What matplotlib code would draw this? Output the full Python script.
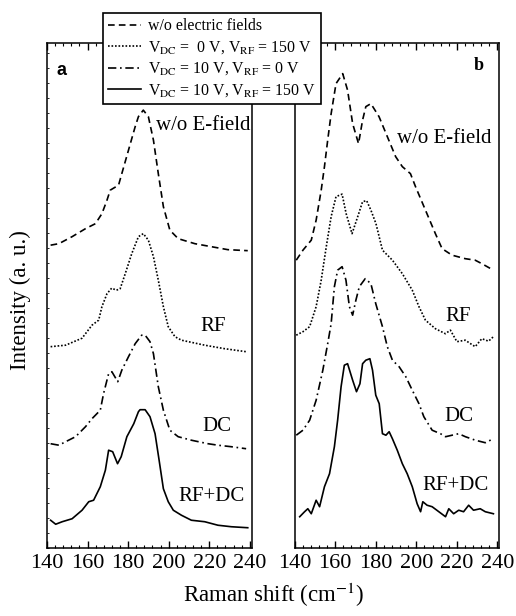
import numpy as np
import matplotlib
matplotlib.use('Agg')
import matplotlib.pyplot as plt
from matplotlib.lines import Line2D
from matplotlib.ticker import MultipleLocator

plt.rcParams['font.family'] = ['Liberation Serif', 'DejaVu Serif']
plt.rcParams['mathtext.fontset'] = 'stix'

# ---- panel a (intensity in a.u., curves already offset) ----
a_wo_x = [141.8, 145.9, 152.4, 159.0, 163.9, 167.1, 169.6, 171.2, 175.3, 176.9, 180.2, 183.5,
          185.1, 187.5, 190.0, 192.5, 194.9, 197.4, 200.6, 204.7, 212.9, 221.0, 229.2, 239.0]
a_wo_y = [60.6, 60.9, 62.3, 63.9, 64.9, 66.9, 69.6, 71.6, 72.6, 74.9, 79.6, 84.3,
          86.3, 87.6, 86.3, 81.6, 74.9, 68.3, 63.6, 61.9, 60.9, 60.3, 59.7, 59.5]

a_rf_x = [141.8, 149.2, 157.3, 162.2, 165.5, 167.1, 169.6, 171.9, 174.3, 176.1, 178.6, 181.8,
          185.1, 187.5, 190.0, 192.5, 194.9, 197.4, 199.8, 203.1, 206.3, 217.8, 227.6, 238.2]
a_rf_y = [40.3, 40.6, 42.0, 44.6, 45.6, 48.3, 50.9, 52.0, 51.6, 51.9, 54.9, 58.9,
          62.3, 62.9, 61.6, 58.3, 53.6, 48.3, 44.3, 42.3, 41.6, 40.6, 39.9, 39.3]

a_dc_x = [141.8, 145.9, 149.2, 154.1, 159.0, 162.2, 166.3, 167.9, 170.4, 172.0, 174.9, 176.9,
          180.2, 183.5, 186.7, 188.4, 190.8, 192.5, 194.9, 197.4, 200.6, 204.7, 211.2, 219.4,
          224.3, 230.9, 238.2]
a_dc_y = [20.9, 20.6, 21.3, 22.3, 24.3, 25.9, 27.6, 30.9, 34.9, 35.3, 33.3, 35.6,
          38.3, 40.9, 42.6, 42.6, 41.3, 38.9, 32.3, 27.6, 23.6, 22.3, 21.6, 20.9,
          20.6, 20.3, 19.9]

a_both_x = [141.8, 144.3, 147.5, 152.4, 157.3, 160.6, 163.0, 166.3, 168.8, 170.4, 172.4, 174.8,
            176.6, 179.4, 182.8, 185.1, 185.9, 188.4, 190.8, 193.3, 195.3, 197.4, 199.8, 202.3,
            206.3, 211.2, 217.8, 224.3, 230.9, 239.0]
a_both_y = [5.6, 4.8, 5.3, 5.9, 7.6, 9.3, 9.6, 12.3, 15.6, 19.6, 19.3, 16.9,
            18.3, 22.3, 24.9, 27.3, 27.7, 27.7, 26.3, 22.9, 17.6, 11.9, 9.3, 7.6,
            6.6, 5.6, 5.3, 4.6, 4.3, 4.1]

# ---- panel b ----
b_wo_x = [140.8, 144.1, 148.2, 150.6, 153.1, 154.7, 156.3, 158.0, 160.4, 163.7, 166.1, 168.6,
          171.5, 173.5, 175.1, 177.6, 181.6, 185.7, 189.8, 193.1, 197.1, 199.6, 204.5, 209.4,
          212.7, 217.6, 224.1, 229.0, 232.3, 238.0]
b_wo_y = [57.6, 59.6, 61.6, 65.6, 71.6, 76.3, 81.6, 86.9, 92.9, 94.9, 91.6, 84.9,
          80.9, 85.6, 88.3, 88.9, 86.3, 82.3, 78.3, 76.3, 74.9, 72.3, 67.6, 62.9,
          59.9, 58.6, 57.9, 57.6, 56.9, 55.6]

b_rf_x = [140.8, 144.1, 147.4, 150.6, 153.1, 155.6, 158.0, 160.4, 163.4, 165.4, 168.3, 171.1,
          173.5, 175.5, 177.6, 180.1, 183.3, 188.2, 193.1, 198.0, 201.3, 204.5, 209.4, 214.3,
          216.8, 220.0, 224.1, 229.0, 232.3, 235.6, 238.0]
b_rf_y = [42.6, 43.3, 44.3, 48.3, 53.6, 60.3, 66.3, 70.3, 70.8, 66.9, 62.9, 66.3,
          69.3, 69.5, 67.6, 64.9, 59.6, 57.6, 54.9, 51.6, 48.3, 45.6, 43.9, 42.9,
          43.6, 41.3, 41.6, 40.3, 41.9, 41.4, 42.3]

b_dc_x = [140.8, 144.1, 147.4, 150.6, 153.9, 156.3, 158.0, 159.6, 161.2, 163.4, 165.3, 167.0,
          168.6, 170.2, 171.9, 174.8, 177.6, 180.0, 183.3, 185.7, 188.2, 191.5, 194.8, 198.0,
          201.3, 203.7, 207.8, 211.9, 214.4, 217.6, 220.9, 224.2, 229.1, 234.0, 238.0]
b_dc_y = [22.6, 23.6, 25.6, 29.6, 35.6, 40.9, 44.9, 52.3, 55.6, 56.3, 53.6, 48.3,
          46.6, 49.6, 52.3, 53.9, 52.9, 48.9, 44.3, 40.3, 37.6, 36.3, 34.3, 31.6,
          28.9, 26.3, 23.6, 22.9, 22.3, 22.6, 22.9, 22.3, 21.6, 21.1, 21.9]

b_both_x = [142.5, 144.9, 146.5, 148.2, 150.6, 152.3, 154.7, 157.2, 159.6, 161.2, 162.9, 164.5,
            166.1, 168.6, 170.5, 172.2, 173.5, 175.1, 177.1, 178.4, 180.0, 181.7, 183.3, 185.0,
            186.6, 188.2, 190.6, 193.1, 195.5, 198.0, 200.4, 202.1, 203.2, 205.3, 207.8, 211.1,
            214.4, 216.0, 218.4, 220.9, 223.3, 225.8, 228.2, 231.5, 234.0, 238.0]
b_both_y = [6.3, 7.3, 7.9, 6.9, 9.6, 8.3, 12.3, 14.9, 20.3, 25.6, 32.3, 36.6,
            36.9, 33.6, 31.3, 32.9, 36.9, 37.6, 37.9, 35.6, 30.6, 28.9, 22.9, 22.6,
            23.3, 21.9, 19.6, 16.9, 14.9, 12.3, 8.9, 7.3, 9.3, 8.6, 8.3, 7.3,
            6.3, 7.9, 6.9, 7.6, 7.3, 8.6, 7.6, 7.9, 7.3, 6.9]

legend_labels = ['w/o electric fields',
                 r'V$_{\rm DC}$ =  0 V, V$_{\rm RF}$ = 150 V',
                 r'V$_{\rm DC}$ = 10 V, V$_{\rm RF}$ = 0 V',
                 r'V$_{\rm DC}$ = 10 V, V$_{\rm RF}$ = 150 V']
curve_names = ['w/o E-field', 'RF', 'DC', 'RF+DC']
a_label_pos = [(240.5, 84.6), (228.0, 44.3), (231.0, 24.3), (237.5, 10.3)]
b_label_pos = [(237.0, 82.0), (227.0, 46.3), (228.0, 26.3), (235.6, 12.6)]

styles = [(0, (4, 2.5)), (0, (1, 1.1)), (0, (5, 2.2, 1, 2.2)), '-']
lw = 1.2

fig = plt.figure(figsize=(5.16, 6.16), dpi=100)
ax_a = fig.add_axes([0.091, 0.110, 0.397, 0.820])
ax_b = fig.add_axes([0.571, 0.110, 0.397, 0.820])

panels = [
    (ax_a, [(a_wo_x, a_wo_y), (a_rf_x, a_rf_y), (a_dc_x, a_dc_y), (a_both_x, a_both_y)], a_label_pos),
    (ax_b, [(b_wo_x, b_wo_y), (b_rf_x, b_rf_y), (b_dc_x, b_dc_y), (b_both_x, b_both_y)], b_label_pos),
]

for ax, curves, label_pos in panels:
    for (x, y), ls in zip(curves, styles):
        ax.plot(x, y, color='black', lw=lw, linestyle=ls)
    for name, (lx, ly) in zip(curve_names, label_pos):
        ax.text(lx, ly, name, fontsize=15, ha='right', va='center')
    ax.set_xlim(140, 241)
    ax.set_ylim(0, 101)
    ax.xaxis.set_major_locator(MultipleLocator(20))
    ax.xaxis.set_minor_locator(MultipleLocator(4))
    ax.tick_params(axis='x', which='both', direction='in', top=True, labelsize=16, pad=4)
    ax.tick_params(axis='x', which='major', length=5, width=1)
    ax.tick_params(axis='x', which='minor', length=2.5, width=0.8)
    ax.set_yticks([])
    for sp in ax.spines.values():
        sp.set_linewidth(1.1)

ax_a.yaxis.set_minor_locator(MultipleLocator(3))
ax_a.tick_params(axis='y', which='minor', direction='in', left=True, length=1.5, width=0.6)

ax_a.text(0.07, 0.945, 'a', transform=ax_a.transAxes, fontsize=13, fontweight='bold',
          family='Liberation Sans', ha='center', va='center')
ax_b.text(0.90, 0.955, 'b', transform=ax_b.transAxes, fontsize=13, fontweight='bold',
          ha='center', va='center')

fig.text(0.040, 0.513, 'Intensity (a. u.)', rotation=90, fontsize=16.5, ha='center', va='center')
fig.text(0.531, 0.034, r'Raman shift (cm$^{-1}$)', fontsize=16.5, ha='center', va='center')

handles = [Line2D([], [], color='black', lw=lw, linestyle=ls) for ls in styles]
leg = fig.legend(handles, legend_labels, loc='upper left', bbox_to_anchor=(0.199, 0.979),
                 fontsize=11.4, frameon=True, fancybox=False, handlelength=2.1,
                 handletextpad=0.4, labelspacing=0.3, borderpad=0.35, borderaxespad=0)
leg.get_frame().set_edgecolor('black')
leg.get_frame().set_linewidth(1.2)
leg.get_frame().set_alpha(1)
leg.set_zorder(10)

fig.savefig('out.png', dpi=100)
